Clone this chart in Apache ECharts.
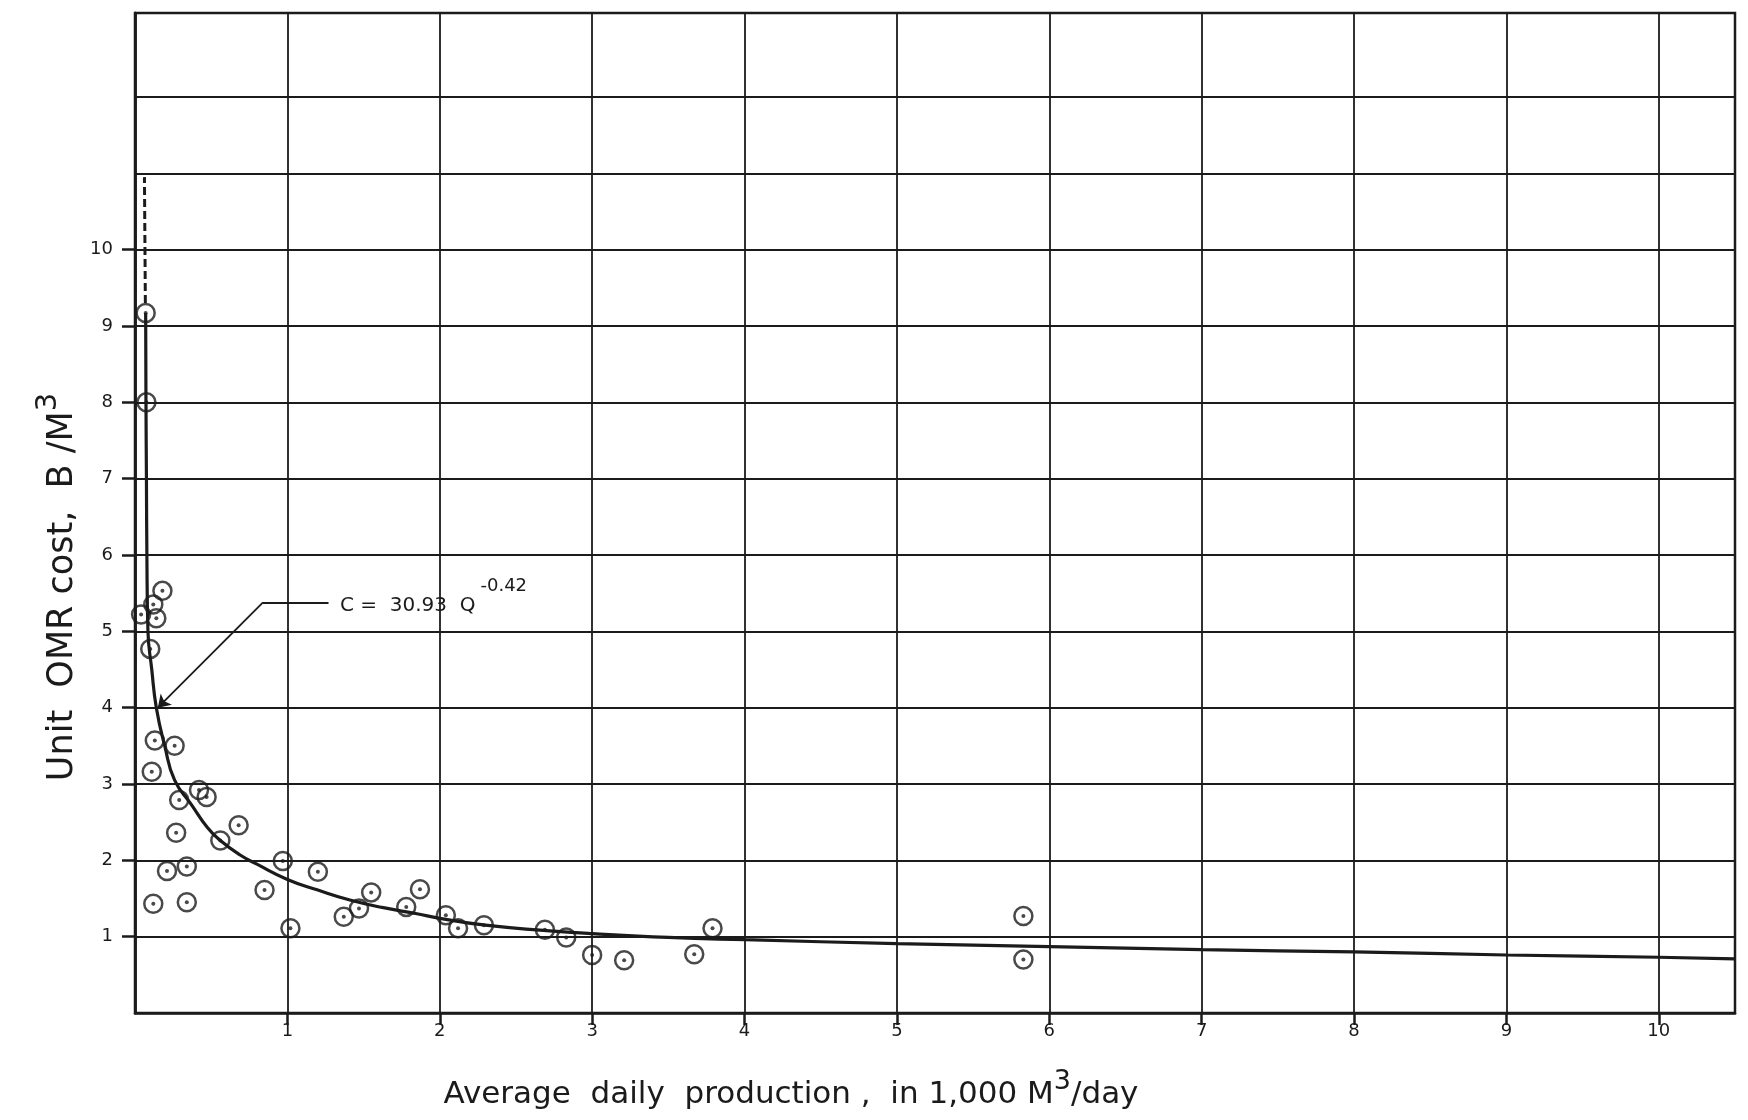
<!DOCTYPE html>
<html>
<head>
<meta charset="utf-8">
<script src="https://cdn.jsdelivr.net/npm/echarts@6/dist/echarts.min.js"></script>
<style>
html,body{margin:0;padding:0;background:#ffffff;}
#chart{width:1748px;height:1120px;}
</style>
</head>
<body>
<div id="chart"></div>
<script>
// ---- axis ranges / tick labels / grid values ----
const xRange = [0, 10.5];
const yRange = [0, 13.1];
const xTickValues = [1, 2, 3, 4, 5, 6, 7, 8, 9, 10];
const yTickValues = [1, 2, 3, 4, 5, 6, 7, 8, 9, 10];
const yGridValues = [1, 2, 3, 4, 5, 6, 7, 8, 9, 10, 11, 12];

// ---- observed plants: average daily production (1,000 m3/day) and unit OMR cost ----
const plantQ = [0.07, 0.075, 0.04, 0.12, 0.18, 0.14, 0.10, 0.13, 0.26, 0.11,
                0.42, 0.47, 0.29, 0.27, 0.56, 0.68, 0.21, 0.34, 0.12, 0.34,
                0.85, 0.97, 1.02, 1.20, 1.37, 1.47, 1.55, 1.78, 1.87, 2.04,
                2.12, 2.29, 2.69, 2.83, 3.00, 3.21, 3.67, 3.79, 5.83, 5.83];
const plantCost = [9.17, 8.00, 5.22, 5.35, 5.53, 5.17, 4.77, 3.57, 3.50, 3.16,
                   2.92, 2.83, 2.79, 2.36, 2.26, 2.46, 1.86, 1.92, 1.43, 1.45,
                   1.61, 1.99, 1.11, 1.85, 1.26, 1.37, 1.58, 1.39, 1.62, 1.28,
                   1.11, 1.15, 1.09, 0.99, 0.76, 0.69, 0.77, 1.11, 1.27, 0.70];

// ---- fitted curve as drawn ----
const curveQ = [0.070, 0.072, 0.075, 0.078, 0.085, 0.11, 0.14, 0.195, 0.26, 0.37,
                0.475, 0.56, 0.69, 0.80, 1.00, 1.20, 1.41, 1.63, 1.85, 2.00,
                2.30, 2.70, 3.00, 3.50, 4.00, 5.00, 6.00, 7.00, 8.00, 9.00,
                10.00, 10.50];
const curveC = [9.17, 8.00, 7.00, 6.00, 5.00, 4.50, 4.00, 3.50, 3.05, 2.73,
                2.43, 2.26, 2.07, 1.95, 1.75, 1.61, 1.48, 1.38, 1.30, 1.24,
                1.15, 1.08, 1.04, 0.99, 0.96, 0.91, 0.87, 0.83, 0.80, 0.76,
                0.73, 0.71];

// ---- dashed extension of the curve ----
const dashQ = [0.068, 0.062];
const dashC = [9.30, 10.95];

// ---- equation leader line and label anchor ----
const leaderQ = [1.27, 0.84, 0.15];
const leaderC = [5.38, 5.38, 4.00];
const eqnQ = 1.345;
const eqnC = 5.33;
const eqnText = 'C =  30.93  Q{sup|-0.42}';

const ink = '#1b1b1b';
const zip = (a, b) => a.map((v, i) => [v, b[i]]);

const chart = echarts.init(document.getElementById('chart'), null, {renderer: 'canvas'});
const numStyle = {color: ink, fontFamily: 'DejaVu Sans', fontSize: 18};

chart.setOption({
  animation: false,
  backgroundColor: '#ffffff',
  grid: {
    left: 135, right: 13, top: 13, bottom: 107,
    show: true, borderColor: ink, borderWidth: 2.5, backgroundColor: 'transparent'
  },
  xAxis: {
    type: 'value', min: xRange[0], max: xRange[1], interval: 1,
    axisLine: {show: true, onZero: false, lineStyle: {color: ink, width: 2.5}},
    axisTick: {show: true, inside: false, length: 12, customValues: xTickValues,
               lineStyle: {color: ink, width: 2.5}},
    axisLabel: Object.assign({customValues: xTickValues, margin: 9}, numStyle),
    splitLine: {show: true, lineStyle: {color: ink, width: 1.8}}
  },
  yAxis: [
    {
      type: 'value', min: yRange[0], max: yRange[1], interval: 1, position: 'left',
      axisLine: {show: true, onZero: false, lineStyle: {color: ink, width: 2.5}},
      axisTick: {show: false, customValues: yGridValues},
      axisLabel: {show: false},
      splitLine: {show: true, lineStyle: {color: ink, width: 1.8}}
    },
    {
      type: 'value', min: yRange[0], max: yRange[1], interval: 1, position: 'left',
      axisLine: {show: true, onZero: false, lineStyle: {color: ink, width: 2.5}},
      axisTick: {show: true, inside: false, length: 13, customValues: yTickValues,
                 lineStyle: {color: ink, width: 2.5}},
      axisLabel: Object.assign({customValues: yTickValues, margin: 22}, numStyle),
      splitLine: {show: false}
    }
  ],
  graphic: [
    {
      type: 'text', x: 791, y: 1095, silent: true,
      style: {
        text: 'Average  daily  production ,  in 1,000 M{sup|3}/day',
        fontFamily: 'DejaVu Sans', fontSize: 31, fill: ink,
        align: 'center', verticalAlign: 'middle',
        rich: {sup: {fontSize: 27, fontFamily: 'DejaVu Sans', fill: ink, padding: [0, 0, 26, 0]}}
      }
    },
    {
      type: 'text', x: 63, y: 587, rotation: Math.PI / 2, silent: true,
      style: {
        text: 'Unit  OMR cost,  B /M{sup|3}',
        fontFamily: 'DejaVu Sans', fontSize: 35, fill: ink,
        align: 'center', verticalAlign: 'middle',
        rich: {sup: {fontSize: 29, fontFamily: 'DejaVu Sans', fill: ink, padding: [0, 0, 30, 0]}}
      }
    }
  ],
  series: [
    {
      type: 'line', name: 'fit', yAxisIndex: 0,
      data: zip(curveQ, curveC),
      showSymbol: false, smooth: 0.5, silent: true,
      lineStyle: {color: ink, width: 3.2},
      markLine: {
        silent: true, animation: false,
        symbolSize: 12,
        lineStyle: {color: ink, width: 1.8, type: 'solid'},
        label: {show: false},
        data: [
          [{coord: [leaderQ[0], leaderC[0]], symbol: 'none'}, {coord: [leaderQ[1], leaderC[1]], symbol: 'none'}],
          [{coord: [leaderQ[1], leaderC[1]], symbol: 'none'}, {coord: [leaderQ[2], leaderC[2]], symbol: 'arrow'}]
        ]
      },
      markPoint: {
        silent: true, animation: false,
        symbol: 'circle', symbolSize: 0,
        data: [{coord: [eqnQ, eqnC]}],
        label: {
          show: true, position: 'right', distance: 0,
          formatter: eqnText,
          color: ink, fontFamily: 'DejaVu Sans', fontSize: 20,
          rich: {sup: {fontSize: 18, color: ink, fontFamily: 'DejaVu Sans', padding: [0, 0, 40, 5]}}
        }
      }
    },
    {
      type: 'line', name: 'extension', yAxisIndex: 0,
      data: zip(dashQ, dashC),
      showSymbol: false, silent: true,
      lineStyle: {color: ink, width: 3, type: [8, 4]}
    },
    {
      type: 'scatter', name: 'plants', yAxisIndex: 0,
      data: zip(plantQ, plantCost),
      symbol: 'circle', symbolSize: 18, silent: true,
      itemStyle: {color: 'rgba(0,0,0,0)', borderColor: ink, borderWidth: 2.5}
    },
    {
      type: 'scatter', name: 'plantDots', yAxisIndex: 0,
      data: zip(plantQ, plantCost),
      symbol: 'circle', symbolSize: 4, silent: true,
      itemStyle: {color: ink}
    }
  ]
});
</script>
</body>
</html>
